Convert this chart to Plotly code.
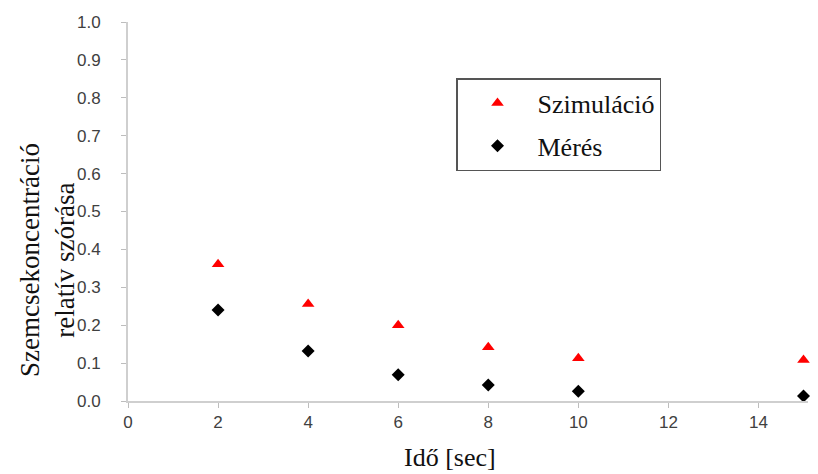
import plotly.graph_objects as go

time_s = [2, 4, 6, 8, 10, 15]
szimulacio = [0.361, 0.256, 0.200, 0.142, 0.113, 0.108]
meres = [0.240, 0.132, 0.069, 0.042, 0.026, 0.013]
x_ticks = [0, 2, 4, 6, 8, 10, 12, 14]
y_ticks = [i / 10 for i in range(11)]

fig = go.Figure()
fig.add_trace(go.Scatter(x=time_s, y=szimulacio, mode="markers", name="Szimuláció",
                         legendgroup="a", cliponaxis=False,
                         marker=dict(symbol="triangle-up", color="#ff0000", size=11)))
fig.add_trace(go.Scatter(x=time_s, y=meres, mode="markers", name="Mérés",
                         legendgroup="b", cliponaxis=False,
                         marker=dict(symbol="diamond", color="#000000", size=10)))

axis_common = dict(showgrid=False, zeroline=False, showline=True, linecolor="#cfcfcf",
                   linewidth=2, ticks="outside", tickcolor="#bdbdbd", ticklen=5, tickwidth=1,
                   automargin=False,
                   tickfont=dict(family="Liberation Sans, Arial", size=17, color="#404040"))

serif = "Liberation Serif, Times New Roman"

# page has an 8px body margin: figure is 810x466 placed at (8, 8)
fig.update_layout(
    width=810, height=466,
    margin=dict(l=120, r=10, t=14, b=73),
    paper_bgcolor="white", plot_bgcolor="white",
    showlegend=True,
    legend=dict(x=(456 - 128) / 680, y=(401 - 78) / 379, xanchor="left", yanchor="top",
                bordercolor="#555555", borderwidth=1.5, bgcolor="white",
                font=dict(family=serif, size=26, color="#111111"),
                traceorder="grouped", tracegroupgap=6, itemwidth=70),
    xaxis=dict(range=[0, 15.1], tickmode="array", tickvals=x_ticks,
               ticklabelstandoff=0, **axis_common),
    yaxis=dict(range=[0, 1.0], tickmode="array", tickvals=y_ticks,
               ticktext=[f"{v:.1f}" for v in y_ticks],
               ticklabelstandoff=17, **axis_common),
    annotations=[
        dict(text="Idő [sec]", xref="paper", yref="paper",
             x=(450 - 128) / 680, y=(401 - 457) / 379, xanchor="center", yanchor="middle",
             showarrow=False, font=dict(family=serif, size=26, color="#111111")),
        dict(text="Szemcsekoncentráció<br>relatív szórása", xref="paper", yref="paper",
             x=(47 - 128) / 680, y=(401 - 260) / 379, xanchor="center", yanchor="middle",
             textangle=-90, showarrow=False,
             font=dict(family=serif, size=27, color="#111111")),
    ],
)

fig.write_html("out.html")
